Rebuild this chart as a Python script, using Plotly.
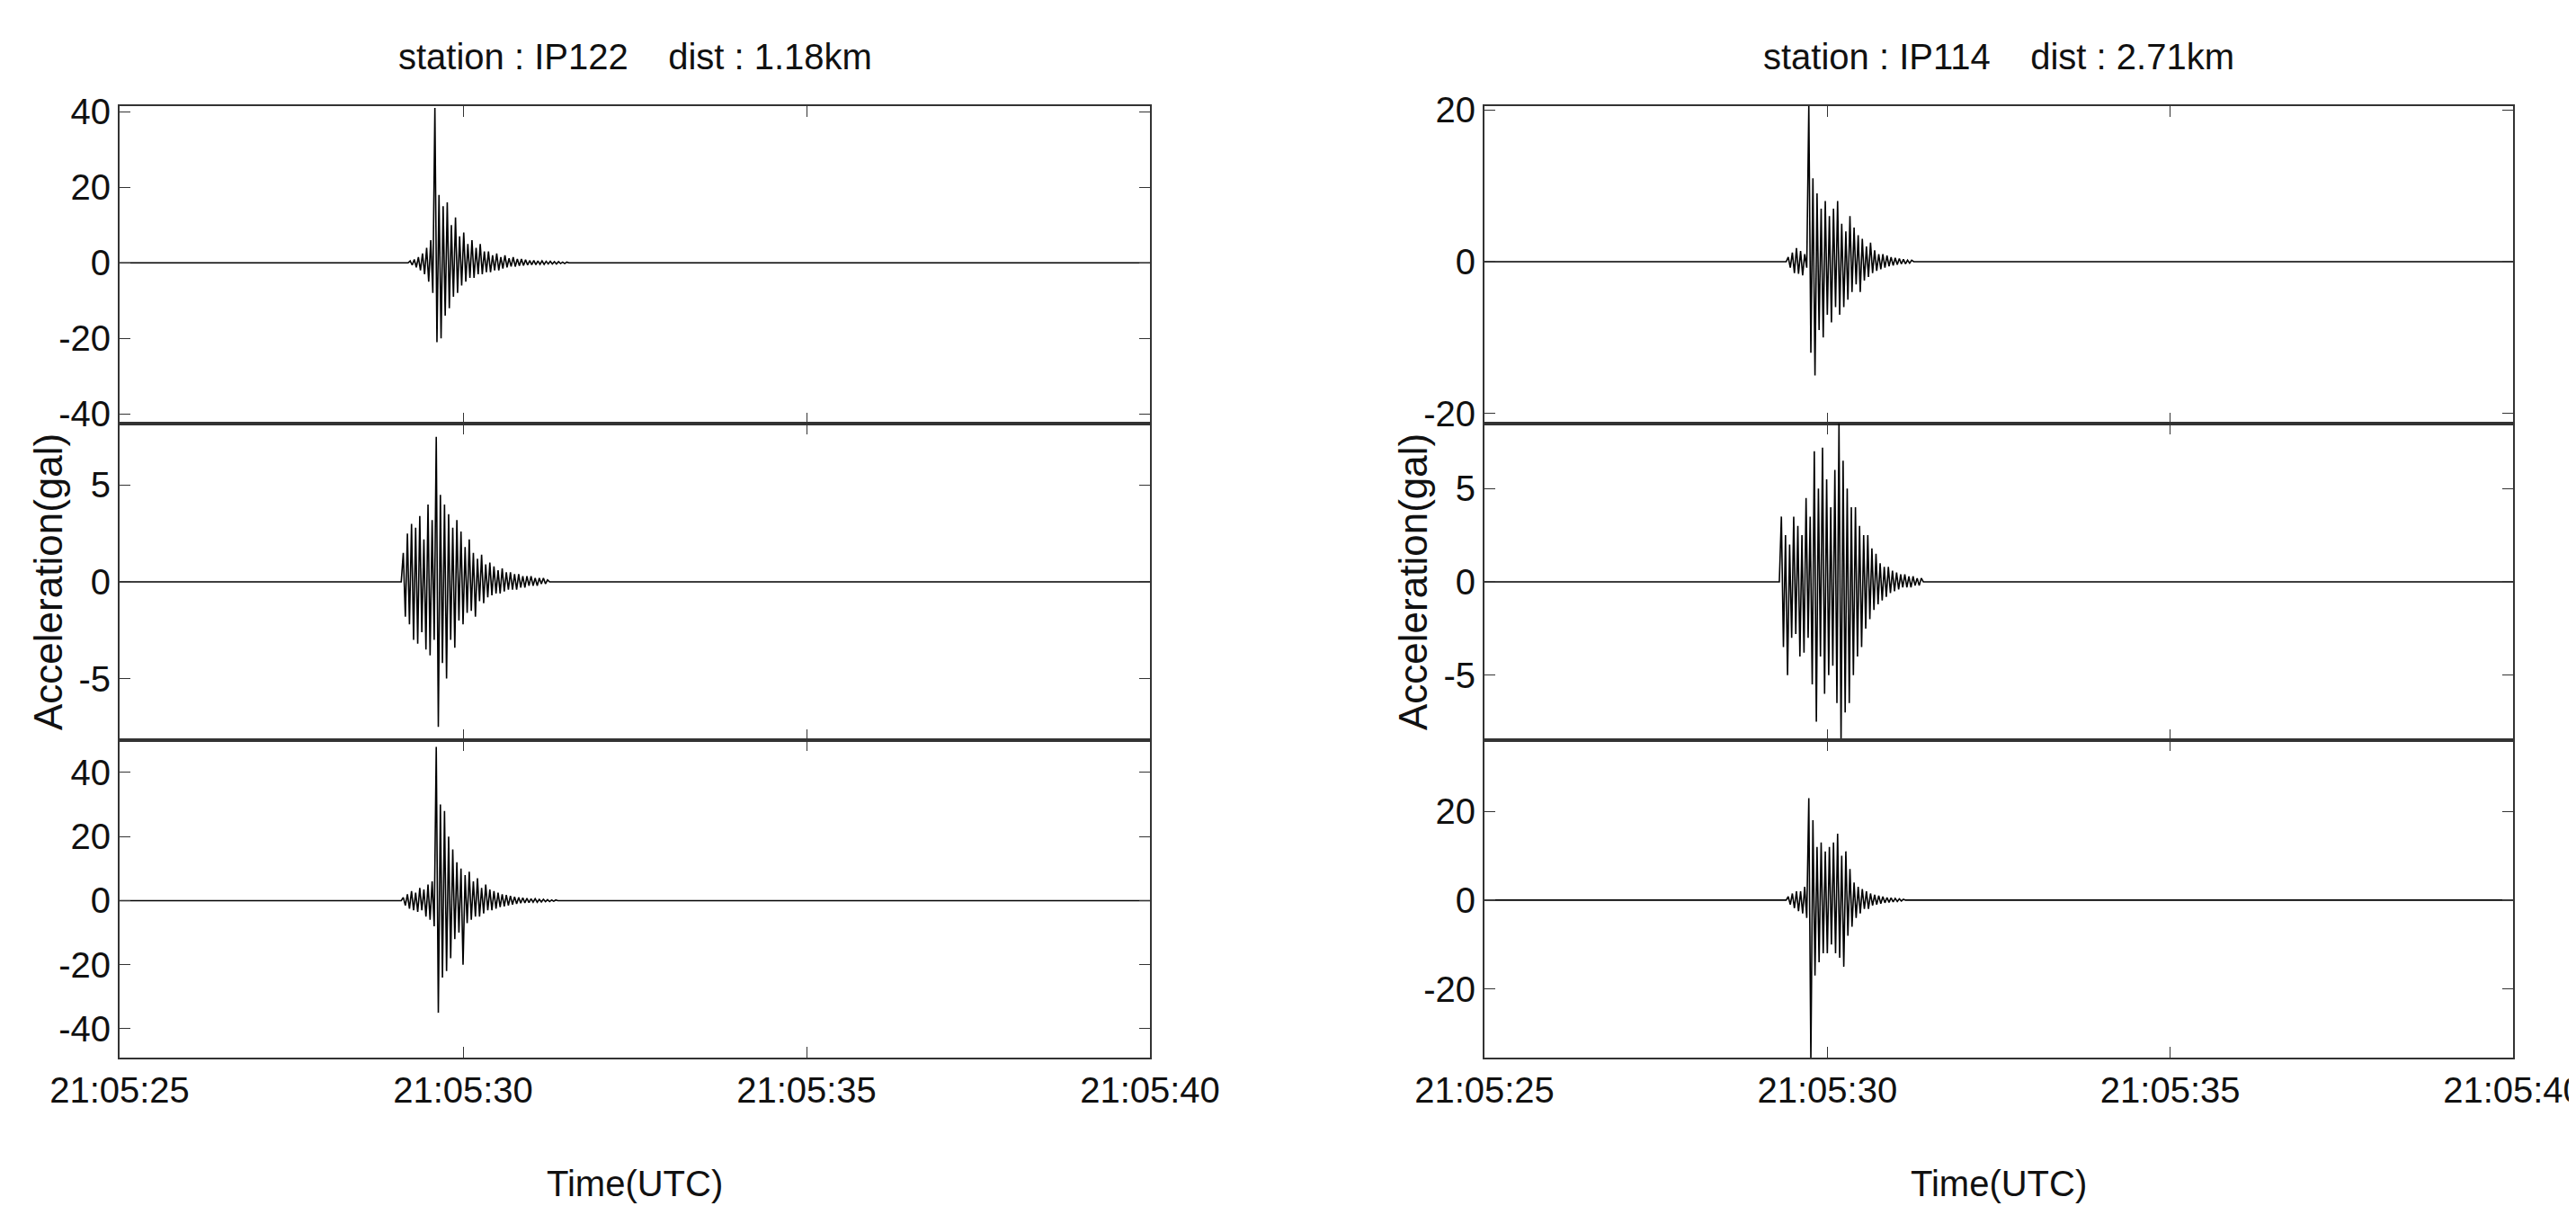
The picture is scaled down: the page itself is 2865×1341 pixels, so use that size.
import numpy as np
import plotly.graph_objects as go

# time axis: seconds after 21:05:25
x_ticks = [0, 5, 10, 15]
x_ticklabels = ["21:05:25", "21:05:30", "21:05:35", "21:05:40"]
titles = ["station : IP122    dist : 1.18km", "station : IP114    dist : 2.71km"]

DT = 0.03
# burst samples (gal), each starting at its onset time
ip122_c1_t0 = 4.20
ip122_c1 = [0, 0.5, -0.6, 0.9, -1.2, 1.5, -2, 2.5, -3, 4, -5, 6, -8, 41, -21, 18, -20, 15, -14, 16, -12,
            10, -9, 12, -8, 7, -6, 8, -5, 5, -4, 6, -4, 4, -3, 5, -3, 3, -2.5, 3, -2.5, 2, -2, 2.5, -2,
            1.5, -1.5, 2, -1.2, 1.2, -1, 1.5, -1, 1, -0.8, 1, -0.7, 0.8, -0.6, 0.6, -0.5, 0.6, -0.5,
            0.5, -0.4, 0.5, -0.4, 0.4, -0.3, 0.4, -0.3, 0.3, -0.3, 0.3, -0.2, 0.2, -0.2, 0.2, 0]
ip122_c2_t0 = 4.10
ip122_c2 = [0, 1.5, -1.8, 2.5, -2.2, 3, -3, 2.8, -3.2, 3.4, -2.6, 2.2, -3.5, 4, -3.8, 3.2, -3, 7.5, -7.5,
            4.5, -4.2, 4, -5, 3.5, -3, 2.8, -3.4, 3.2, -2, 2.6, -2.2, 1.8, -1.6, 2.2, -1.5, 1.5, -1.8,
            1.2, -1, 1.4, -1.1, 0.9, -0.8, 1, -0.7, 0.8, -0.6, 0.6, -0.6, 0.7, -0.5, 0.5, -0.4, 0.5, -0.4,
            0.4, -0.4, 0.4, -0.3, 0.3, -0.3, 0.3, -0.2, 0.3, -0.2, 0.2, -0.2, 0.2, -0.1, 0.2, -0.1, 0.1, 0]
ip122_c3_t0 = 4.10
ip122_c3 = [0, 1, -1.5, 2, -2.5, 3, -3, 2.5, -3.5, 4, -3, 3.5, -5, 5, -6, 6, -8, 48, -35, 30, -24, 28, -22,
            20, -18, 16, -12, 12, -10, 10, -20, 8, -7, 9, -6, 6, -5, 7, -5, 4, -4, 5, -3, 3.5, -3, 3, -2.5,
            2.5, -2, 2, -1.8, 1.8, -1.5, 1.5, -1.2, 1.2, -1, 1, -0.8, 0.9, -0.7, 0.7, -0.6, 0.6, -0.5,
            0.6, -0.5, 0.4, -0.4, 0.4, -0.3, 0.3, -0.3, 0.2, -0.2, 0.2, 0]
ip114_c1_t0 = 4.40
ip114_c1 = [0, 0.6, -0.8, 1.2, -1.5, 1.8, -1.6, 1.4, -1.8, 1, -0.8, 20.5, -12, 11, -15, 9, -9, 7, -10, 8,
            -7, 6, -8, 7, -6, 8, -7, 5, -6, 4, -5, 6, -4, 4.5, -3, 3.5, -4, 3, -2.5, 2, -2, 2.5, -1.5, 1.5,
            -1.2, 1, -1, 1, -0.8, 0.8, -0.6, 0.6, -0.5, 0.5, -0.4, 0.4, -0.3, 0.3, -0.3, 0.2, -0.2, 0.2, 0]
ip114_c2_t0 = 4.30
ip114_c2 = [0, 3.5, -3.5, 2.5, -5, 2, -3, 3.5, -2.8, 3, -4, 2.5, -3.8, 4.5, -3, 3.5, -5.5, 7, -7.5, 5,
            -4, 7.2, -6, 5.5, -5, 4, -4.5, 6, -6.5, 8.5, -8.5, 6.5, -7, 5, -6.5, 4, -5, 4, -4, 3, -3.5, 2.5,
            -2.5, 2.5, -2, 1.8, -1.5, 1.5, -1.2, 1, -1, 0.8, -0.8, 0.8, -0.6, 0.6, -0.5, 0.5, -0.4, 0.4,
            -0.3, 0.4, -0.3, 0.3, -0.3, 0.3, -0.2, 0.2, -0.2, 0.2, 0]
ip114_c3_t0 = 4.40
ip114_c3 = [0, 0.8, -1, 1.5, -1.8, 2, -2.5, 2, -3, 3, -4, 23, -36, 18, -17, 12, -14, 13, -12, 11, -12,
            12, -10, 13, -12, 15, -13, 10, -15, 11, -8, 7, -6, 4, -4, 3, -3, 2.5, -2, 2, -2, 1.5, -1.2, 1.2,
            -1, 1, -0.8, 0.8, -0.6, 0.6, -0.5, 0.5, -0.4, 0.4, -0.3, 0.3, -0.2, 0.2, 0]

y_ranges = {
    (0, 0): [-42.5, 41.5], (0, 1): [-8.2, 8.2], (0, 2): [-49, 50],
    (1, 0): [-21.3, 20.5], (1, 1): [-8.5, 8.5], (1, 2): [-35.5, 36],
}
y_ticks = {
    (0, 0): [-40, -20, 0, 20, 40], (0, 1): [-5, 0, 5], (0, 2): [-40, -20, 0, 20, 40],
    (1, 0): [-20, 0, 20], (1, 1): [-5, 0, 5], (1, 2): [-20, 0, 20],
}
series = {
    (0, 0): (ip122_c1_t0, ip122_c1), (0, 1): (ip122_c2_t0, ip122_c2), (0, 2): (ip122_c3_t0, ip122_c3),
    (1, 0): (ip114_c1_t0, ip114_c1), (1, 1): (ip114_c2_t0, ip114_c2), (1, 2): (ip114_c3_t0, ip114_c3),
}

W, H = 2865, 1341
col_dom = [[125 / W, 1271 / W], [1643 / W, 2787 / W]]
ytop, ybot = 1 - 110 / H, 1 - 1168 / H
ph = (ytop - ybot) / 3
FONT = "Liberation Sans, Arial"
TS = 40

fig = go.Figure()
layout = {}
k = 0
for c in range(2):
    for r in range(3):
        k += 1
        t0, vals = series[(c, r)]
        vals = np.array(vals, dtype=float)
        t = t0 + np.arange(len(vals)) * DT
        xs = np.concatenate([[0], t, [15]])
        ys = np.concatenate([[0], vals, [0]])
        fig.add_trace(go.Scatter(x=xs, y=ys, mode="lines", line=dict(color="black", width=1.6),
                                 xaxis=f"x{k}", yaxis=f"y{k}", showlegend=False))
        ax = dict(domain=col_dom[c], range=[0, 15], tickvals=x_ticks,
                  ticktext=x_ticklabels if r == 2 else [""] * 4, automargin=False,
                  ticks="inside", ticklen=12, tickcolor="#333", mirror="ticks", showline=True,
                  linecolor="#333", linewidth=2, showgrid=False, zeroline=False,
                  anchor=f"y{k}", tickfont=dict(size=TS, family=FONT, color="#111"))
        ay = dict(domain=[ytop - (r + 1) * ph, ytop - r * ph], range=y_ranges[(c, r)],
                  tickvals=y_ticks[(c, r)], ticktext=[str(v) for v in y_ticks[(c, r)]],
                  ticks="inside", ticklen=12, tickcolor="#333", automargin=False,
                  mirror="ticks", showline=True, linecolor="#333", linewidth=2, showgrid=False,
                  zeroline=False, anchor=f"x{k}", tickfont=dict(size=TS, family=FONT, color="#111"))
        layout[f"xaxis{k}"] = ax
        layout[f"yaxis{k}"] = ay

fig.update_layout(**layout)
ann = []
for c in range(2):
    xm = sum(col_dom[c]) / 2
    ann.append(dict(text=titles[c], x=xm, y=1 - 55 / H, xref="paper", yref="paper", showarrow=False,
                    xanchor="center", yanchor="middle",
                    font=dict(size=TS, family=FONT, color="#111")))
    ann.append(dict(text="Time(UTC)", x=xm, y=1 - 1308 / H, xref="paper", yref="paper", showarrow=False,
                    xanchor="center", yanchor="middle",
                    font=dict(size=TS, family=FONT, color="#111")))
    ann.append(dict(text="Acceleration(gal)", x=col_dom[c][0] - 80 / W, y=ytop - 1.5 * ph, xref="paper",
                    yref="paper", showarrow=False, textangle=-90, xanchor="center", yanchor="middle",
                    font=dict(size=44, family=FONT, color="#111")))
fig.update_layout(annotations=ann, width=W, height=H, margin=dict(l=0, r=0, t=0, b=0),
                  plot_bgcolor="white", paper_bgcolor="white")
fig.write_html("out.html")
